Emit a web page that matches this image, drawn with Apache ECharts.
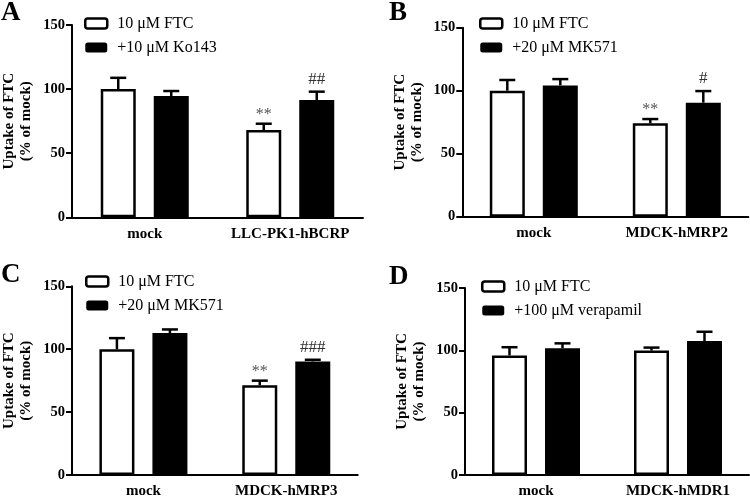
<!DOCTYPE html>
<html>
<head>
<meta charset="utf-8">
<script src="https://cdn.jsdelivr.net/npm/echarts@6/dist/echarts.min.js"></script>
<style>
html,body{margin:0;padding:0;background:#fff;}
#chart{width:750px;height:499px;}
</style>
</head>
<body>
<div id="chart"></div>
<script>
// ---- data ----
const panelLetters = ['A', 'B', 'C', 'D'];
const categoriesA = ['mock', 'LLC-PK1-hBCRP'];
const categoriesB = ['mock', 'MDCK-hMRP2'];
const categoriesC = ['mock', 'MDCK-hMRP3'];
const categoriesD = ['mock', 'MDCK-hMDR1'];
const ftcName = '10 μM FTC';
const inhibitorNames = ['+10 μM Ko143', '+20 μM MK571', '+20 μM MK571', '+100 μM verapamil'];

const ftcA = [100, 68.1];   const ftcSemA = [8.8, 4.9];
const inhA = [94.6, 91.5];  const inhSemA = [3.9, 6.5];
const ftcB = [100, 74.1];   const ftcSemB = [8.5, 3.4];
const inhB = [104.2, 90.5]; const inhSemB = [5.0, 9.2];
const ftcC = [100, 71.3];   const ftcSemC = [8.8, 3.7];
const inhC = [112.8, 90.3]; const inhSemC = [2.9, 1.3];
const ftcD = [95.9, 99.8];  const ftcSemD = [6.6, 2.4];
const inhD = [101.7, 107.5];const inhSemD = [3.9, 7.4];

const sigFtcA = ['', '**']; const sigInhA = ['', '##'];
const sigFtcB = ['', '**']; const sigInhB = ['', '#'];
const sigFtcC = ['', '**']; const sigInhC = ['', '###'];
const sigFtcD = ['', ''];   const sigInhD = ['', ''];

const yTicks = { min: 0, max: 150, interval: 50 };
const yAxisName = 'Uptake of FTC\n(% of mock)';

// ---- layout ----
const panels = [
  { cats: categoriesA, ftc: ftcA, ftcSem: ftcSemA, inh: inhA, inhSem: inhSemA, sf: sigFtcA, si: sigInhA,
    grid: { left: 71, top: 25, width: 292, height: 192.3 }, legend: { left: 84, top: 15.5 }, title: { left: 1, top: 0 } },
  { cats: categoriesB, ftc: ftcB, ftcSem: ftcSemB, inh: inhB, inhSem: inhSemB, sf: sigFtcB, si: sigInhB,
    grid: { left: 462.3, top: 27.7, width: 286, height: 189 }, legend: { left: 479, top: 15.5 }, title: { left: 389, top: 0 } },
  { cats: categoriesC, ftc: ftcC, ftcSem: ftcSemC, inh: inhC, inhSem: inhSemC, sf: sigFtcC, si: sigInhC,
    grid: { left: 71.7, top: 286.3, width: 286, height: 189.4 }, legend: { left: 85, top: 273.5 }, title: { left: 1, top: 262 } },
  { cats: categoriesD, ftc: ftcD, ftcSem: ftcSemD, inh: inhD, inhSem: inhSemD, sf: sigFtcD, si: sigInhD,
    grid: { left: 465, top: 288, width: 284, height: 189.3 }, legend: { left: 481, top: 278.5 }, title: { left: 389, top: 264 } }
];

const FONT = 'Liberation Serif';
const BAR_W = 35;
const BAR_GAP_PX = 18;
const HALF_OFFSET = (BAR_W + BAR_GAP_PX) / 2;

const option = {
  backgroundColor: '#fff',
  animation: false,
  title: [], legend: [], grid: [], xAxis: [], yAxis: [], series: []
};

panels.forEach((p, i) => {
  option.title.push({
    text: panelLetters[i], left: p.title.left, top: p.title.top, padding: 0,
    textStyle: { fontFamily: FONT, fontWeight: 'bold', fontSize: 27, color: '#000' }
  });
  option.legend.push({
    orient: 'vertical', left: p.legend.left, top: p.legend.top, padding: 0,
    itemWidth: 22, itemHeight: 10, itemGap: 8,
    textStyle: { fontFamily: FONT, fontSize: 16, color: '#000', padding: [0, 0, 0, 5] },
    selectedMode: false,
    data: [
      { name: ftcName, icon: 'roundRect', itemStyle: { color: '#fff', borderColor: '#000', borderWidth: 2.5 } },
      { name: inhibitorNames[i], icon: 'roundRect', itemStyle: { color: '#000', borderColor: '#000', borderWidth: 0 } }
    ]
  });
  option.grid.push(Object.assign({ containLabel: false }, p.grid));
  option.xAxis.push({
    type: 'category', gridIndex: i, data: p.cats,
    axisLine: { lineStyle: { color: '#000', width: 2 } },
    axisTick: { alignWithLabel: true, length: 5, lineStyle: { color: '#000', width: 2 } },
    axisLabel: { interval: 0, fontFamily: FONT, fontWeight: 'bold', fontSize: 15, color: '#000', margin: 9 },
    splitLine: { show: false }
  });
  option.yAxis.push({
    type: 'value', gridIndex: i, min: yTicks.min, max: yTicks.max, interval: yTicks.interval,
    name: yAxisName, nameLocation: 'middle', nameGap: 37,
    nameTextStyle: { fontFamily: FONT, fontWeight: 'bold', fontSize: 15, color: '#000', lineHeight: 17 },
    axisLine: { show: true, lineStyle: { color: '#000', width: 2 } },
    axisTick: { show: true, length: 6, lineStyle: { color: '#000', width: 2 } },
    axisLabel: { fontFamily: FONT, fontWeight: 'bold', fontSize: 14.5, color: '#000', margin: 7 },
    splitLine: { show: false }
  });
  option.series.push({
    name: ftcName, type: 'bar', xAxisIndex: i, yAxisIndex: i, data: p.ftc,
    barWidth: BAR_W, barGap: (BAR_GAP_PX / BAR_W * 100) + '%',
    itemStyle: { color: '#fff', borderColor: '#000', borderWidth: 2.5 }
  });
  option.series.push({
    name: inhibitorNames[i], type: 'bar', xAxisIndex: i, yAxisIndex: i, data: p.inh,
    barWidth: BAR_W, barGap: (BAR_GAP_PX / BAR_W * 100) + '%',
    itemStyle: { color: '#000', borderColor: '#000', borderWidth: 2 }
  });
  const errData = [];
  const sigs = [];
  p.cats.forEach((c, ci) => {
    errData.push([ci, p.ftc[ci], p.ftcSem[ci], -1]); sigs.push(p.sf[ci]);
    errData.push([ci, p.inh[ci], p.inhSem[ci], 1]);  sigs.push(p.si[ci]);
  });
  option.series.push({
    type: 'custom', xAxisIndex: i, yAxisIndex: i, z: 5, silent: true,
    encode: { x: 0, y: 1 },
    data: errData,
    renderItem: function (params, api) {
      const ci = api.value(0), v = api.value(1), e = api.value(2), side = api.value(3);
      const base = api.coord([ci, v]);
      const top = api.coord([ci, v + e]);
      const x = base[0] + side * HALF_OFFSET;
      const children = [
        { type: 'line', shape: { x1: x, y1: base[1], x2: x, y2: top[1] }, style: { stroke: '#000', lineWidth: 2.5 } },
        { type: 'line', shape: { x1: x - 8, y1: top[1], x2: x + 8, y2: top[1] }, style: { stroke: '#000', lineWidth: 2.5 } }
      ];
      const s = sigs[params.dataIndex];
      if (s) {
        const isStar = s.indexOf('*') >= 0;
        children.push({
          type: 'text',
          style: { text: s, x: x, y: top[1] - (isStar ? 1 : 4), align: 'center', verticalAlign: 'bottom',
                   font: (isStar ? '16px' : '17px') + ' "Liberation Serif"', fill: isStar ? '#555' : '#333' }
        });
      }
      return { type: 'group', children: children };
    }
  });
});

const chart = echarts.init(document.getElementById('chart'), null, { renderer: 'canvas' });
chart.setOption(option);
</script>
</body>
</html>
